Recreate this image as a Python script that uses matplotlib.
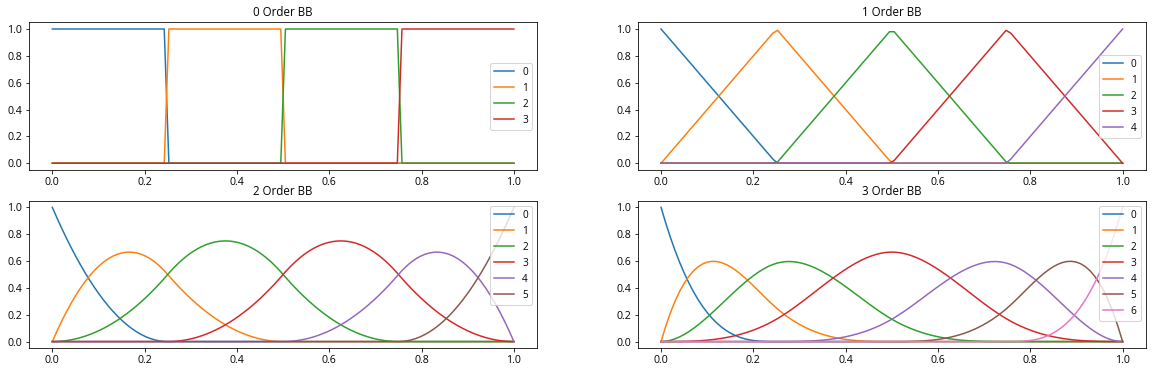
import numpy as np
import matplotlib
matplotlib.use("Agg")
import matplotlib.pyplot as plt

plt.rcParams['font.family'] = ['Open Sans', 'Noto Sans CJK KR', 'DejaVu Sans']
plt.rcParams['axes.unicode_minus'] = False

# interior knots of the basis and the orders drawn
breaks = [0.0, 0.25, 0.5, 0.75, 1.0]
orders = [0, 1, 2, 3]
legend_locs = ['center right', 'center right', 'upper right', 'upper right']
n_samples = 100


def bspline_basis(i, p, knots, x):
    """Cox-de Boor recursion; last interval closed so the end point is 1."""
    if p == 0:
        lo, hi = knots[i], knots[i + 1]
        if hi == knots[-1] and lo < hi:
            return ((x >= lo) & (x <= hi)).astype(float)
        return ((x >= lo) & (x < hi)).astype(float)
    out = np.zeros_like(x)
    d1 = knots[i + p] - knots[i]
    if d1 > 0:
        out += (x - knots[i]) / d1 * bspline_basis(i, p - 1, knots, x)
    d2 = knots[i + p + 1] - knots[i + 1]
    if d2 > 0:
        out += (knots[i + p + 1] - x) / d2 * bspline_basis(i + 1, p - 1, knots, x)
    return out


x = np.linspace(0, 1, n_samples)

fig, axes = plt.subplots(2, 2, figsize=(16, 371 / 72), dpi=72)
fig.subplots_adjust(left=0.0254, right=0.9945, top=0.9399, bottom=0.0612,
                    wspace=0.199, hspace=0.208)

for ax, p, loc in zip(axes.flat, orders, legend_locs):
    knots = [breaks[0]] * p + breaks + [breaks[-1]] * p
    n_basis = len(knots) - p - 1
    for i in range(n_basis):
        ax.plot(x, bspline_basis(i, p, knots, x), label=str(i))
    ax.set_title('%d Order BB' % p, fontsize=11.5)
    ax.tick_params(labelsize=10.5)
    ax.legend(loc=loc, fontsize=10)

fig.savefig('out.png', dpi=72)
